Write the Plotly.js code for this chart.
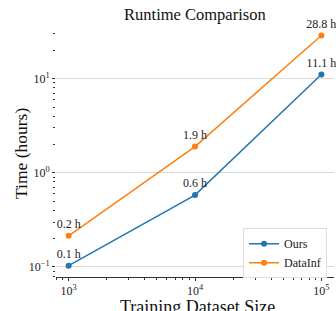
<!DOCTYPE html>
<html><head><meta charset="utf-8">
<script src="https://cdn.plot.ly/plotly-3.0.1.min.js"></script>
<style>html,body{margin:0;padding:0;background:#fff}#c{width:336px;height:311px}</style>
</head><body><div id="c"></div>
<script>
const sizes = [1000, 10000, 100000];
const oursHours = [0.103, 0.58, 11.1];
const dataInfHours = [0.214, 1.9, 28.8];
const oursLabels = ["0.1 h", "0.6 h", "11.1 h"];
const dataInfLabels = ["0.2 h", "1.9 h", "28.8 h"];
const seriesNames = ["Ours", "DataInf"];
const xTickVals = [1000, 10000, 100000];
const xTickText = ["10<sup>3</sup>", "10<sup>4</sup>", "10<sup>5</sup>"];
const yTickVals = [0.1, 1, 10];
const yTickText = ["10<sup>\u22121</sup>", "10<sup>0</sup>", "10<sup>1</sup>"];
const xTitle = "Training Dataset Size";
const yTitle = "Time (hours)";

const font = "Liberation Serif, Times New Roman, serif";
const traces = [
  {x: sizes, y: oursHours, name: seriesNames[0], mode: "lines+markers+text", text: oursLabels,
   textposition: "top center", textfont: {family: font, size: 12, color: "#222"},
   line: {color: "#1f77b4", width: 1.5}, marker: {color: "#1f77b4", size: 6}, cliponaxis: false},
  {x: sizes, y: dataInfHours, name: seriesNames[1], mode: "lines+markers+text", text: dataInfLabels,
   textposition: "top center", textfont: {family: font, size: 12, color: "#222"},
   line: {color: "#ff7f0e", width: 1.5}, marker: {color: "#ff7f0e", size: 6}, cliponaxis: false}
];
const layout = {
  width: 336, height: 311,
  margin: {l: 56, r: 2, t: 24, b: 34},
  paper_bgcolor: "#fff", plot_bgcolor: "#fff",
  font: {family: font, color: "#222"},
  title: {text: "Runtime Comparison", font: {family: font, size: 16.5, color: "#111"}, x: 0.58, xanchor: "center", y: 0.955, yanchor: "middle"},
  xaxis: {type: "log", range: [2.9, 5.1], tickvals: xTickVals, ticktext: xTickText,
    showgrid: false, zeroline: false, showline: true, linecolor: "#333", linewidth: 1,
    ticks: "outside", ticklen: 3, tickcolor: "#333", tickfont: {family: font, size: 12},
    minor: {ticks: "outside", ticklen: 2, tickcolor: "#333", dtick: "D1", showgrid: false}},
  yaxis: {type: "log", range: [-1.107, 1.581], tickvals: yTickVals, ticktext: yTickText,
    showgrid: true, gridcolor: "#d9d9d9", gridwidth: 1, zeroline: false, showline: false,
    ticks: "outside", ticklen: 3, tickcolor: "#333", tickfont: {family: font, size: 12},
    minor: {ticks: "outside", ticklen: 2, tickcolor: "#333", dtick: "D1", showgrid: false}},
  annotations: [
    {text: xTitle, xref: "paper", yref: "paper", x: 0.51, y: -0.12, xanchor: "center", yanchor: "middle",
     showarrow: false, font: {family: font, size: 18, color: "#111"}},
    {text: yTitle, xref: "paper", yref: "paper", x: -0.126, y: 0.49, xanchor: "center", yanchor: "middle",
     textangle: -90, showarrow: false, font: {family: font, size: 17.5, color: "#111"}}
  ],
  legend: {x: 0.975, xanchor: "right", y: -0.005, yanchor: "bottom", bgcolor: "#fff",
    bordercolor: "#ddd", borderwidth: 1, font: {family: font, size: 12}},
  showlegend: true
};
Plotly.newPlot("c", traces, layout, {staticPlot: true});
</script></body></html>
